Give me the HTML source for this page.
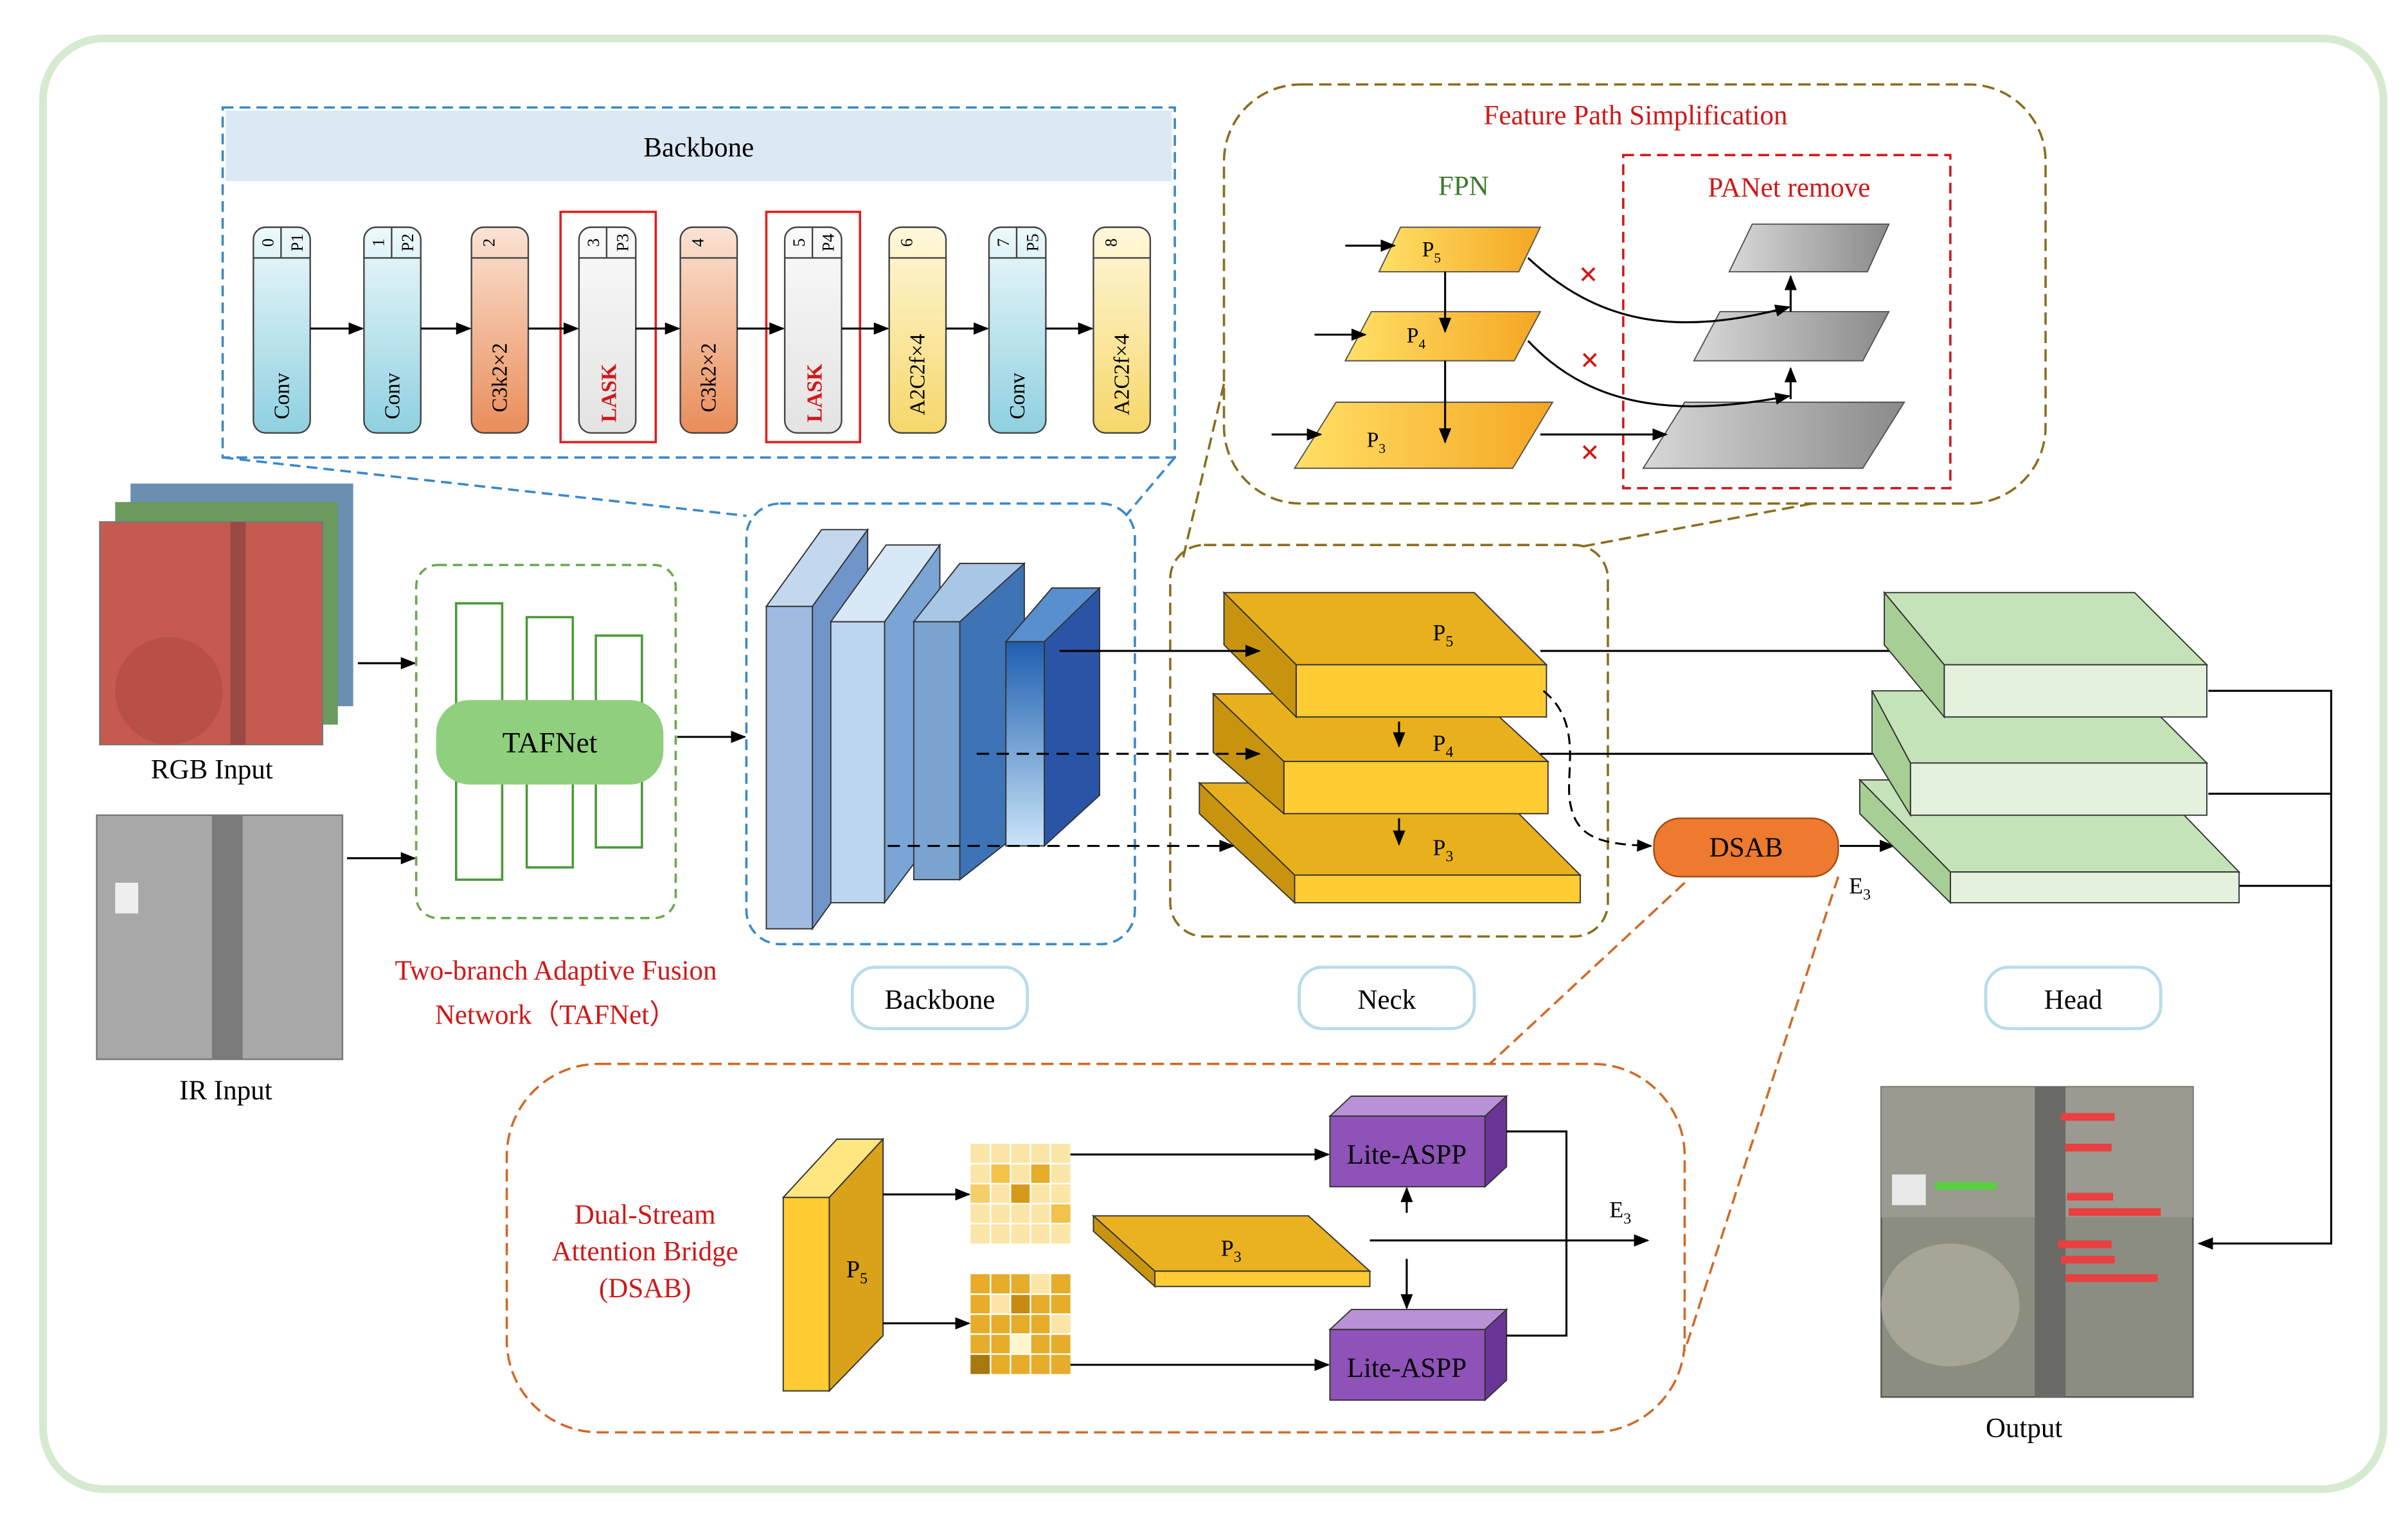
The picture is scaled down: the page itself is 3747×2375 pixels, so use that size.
<!DOCTYPE html>
<html><head><meta charset="utf-8"><style>
html,body{margin:0;padding:0;background:#fff}
svg{display:block}
svg text{font-family:"Liberation Serif",serif}
</style></head><body>
<svg width="3747" height="2375" viewBox="0 0 1568 994" preserveAspectRatio="none" xmlns="http://www.w3.org/2000/svg" font-family="Liberation Serif, serif">
<defs>
<linearGradient id="cy" x1="0" y1="0" x2="0" y2="1"><stop offset="0" stop-color="#eef9fb"/><stop offset="1" stop-color="#8fd0e0"/></linearGradient>
<linearGradient id="or" x1="0" y1="0" x2="0" y2="1"><stop offset="0" stop-color="#fbe3d4"/><stop offset="1" stop-color="#e98d5a"/></linearGradient>
<linearGradient id="ye" x1="0" y1="0" x2="0" y2="1"><stop offset="0" stop-color="#fff8dc"/><stop offset="1" stop-color="#f6d76a"/></linearGradient>
<linearGradient id="gr" x1="0" y1="0" x2="0" y2="1"><stop offset="0" stop-color="#fafafa"/><stop offset="1" stop-color="#e3e3e3"/></linearGradient>
<linearGradient id="pg" x1="0" y1="0" x2="1" y2="0"><stop offset="0" stop-color="#ffe066"/><stop offset="1" stop-color="#f5a623"/></linearGradient>
<linearGradient id="gg" x1="0" y1="0" x2="1" y2="0"><stop offset="0" stop-color="#d8d8d8"/><stop offset="1" stop-color="#8a8a8a"/></linearGradient>
<linearGradient id="bl" x1="0" y1="0" x2="0" y2="1"><stop offset="0" stop-color="#1e5fb0"/><stop offset="1" stop-color="#c9e4f7"/></linearGradient>
<marker id="a" markerWidth="10" markerHeight="8" refX="9" refY="4" orient="auto" markerUnits="userSpaceOnUse"><path d="M0,0 L10,4 L0,8 z" fill="#000"/></marker>
</defs>
<rect x="28" y="25" width="1524" height="945" rx="40" fill="#fff" stroke="#d6ead0" stroke-width="5"/>

<!-- Backbone detail -->
<rect x="145" y="70" width="620" height="228" fill="none" stroke="#3b88c8" stroke-width="1.5" stroke-dasharray="7,4"/>
<rect x="147" y="72" width="616" height="46" fill="#dce9f5"/>
<text x="455" y="102" font-size="18" text-anchor="middle">Backbone</text>
<g stroke="#444" stroke-width="1">
<rect x="165" y="148" width="37" height="134" rx="8" fill="url(#cy)"/>
<rect x="237" y="148" width="37" height="134" rx="8" fill="url(#cy)"/>
<rect x="307" y="148" width="37" height="134" rx="8" fill="url(#or)"/>
<rect x="377" y="148" width="37" height="134" rx="8" fill="url(#gr)"/>
<rect x="443" y="148" width="37" height="134" rx="8" fill="url(#or)"/>
<rect x="511" y="148" width="37" height="134" rx="8" fill="url(#gr)"/>
<rect x="579" y="148" width="37" height="134" rx="8" fill="url(#ye)"/>
<rect x="644" y="148" width="37" height="134" rx="8" fill="url(#cy)"/>
<rect x="712" y="148" width="37" height="134" rx="8" fill="url(#ye)"/>
<path d="M165,168h37M237,168h37M307,168h37M377,168h37M443,168h37M511,168h37M579,168h37M644,168h37M712,168h37M183,148v20M255,148v20M395,148v20M529,148v20M662,148v20"/>
</g>
<rect x="365" y="138" width="62" height="150" fill="none" stroke="#e02020" stroke-width="1.5"/>
<rect x="499" y="138" width="61" height="150" fill="none" stroke="#e02020" stroke-width="1.5"/>
<g font-size="14" text-anchor="middle">
<text transform="translate(188,258) rotate(-90)">Conv</text>
<text transform="translate(260,258) rotate(-90)">Conv</text>
<text transform="translate(330,246) rotate(-90)">C3k2×2</text>
<text transform="translate(401,256) rotate(-90)" fill="#d01818" font-weight="bold">LASK</text>
<text transform="translate(466,246) rotate(-90)">C3k2×2</text>
<text transform="translate(535,256) rotate(-90)" fill="#d01818" font-weight="bold">LASK</text>
<text transform="translate(602,244) rotate(-90)">A2C2f×4</text>
<text transform="translate(667,258) rotate(-90)">Conv</text>
<text transform="translate(735,244) rotate(-90)">A2C2f×4</text>
</g>
<g font-size="11" text-anchor="middle">
<text transform="translate(178,158) rotate(-90)">0</text><text transform="translate(197,158) rotate(-90)">P1</text>
<text transform="translate(250,158) rotate(-90)">1</text><text transform="translate(269,158) rotate(-90)">P2</text>
<text transform="translate(322,158) rotate(-90)">2</text>
<text transform="translate(390,158) rotate(-90)">3</text><text transform="translate(409,158) rotate(-90)">P3</text>
<text transform="translate(458,158) rotate(-90)">4</text>
<text transform="translate(524,158) rotate(-90)">5</text><text transform="translate(543,158) rotate(-90)">P4</text>
<text transform="translate(594,158) rotate(-90)">6</text>
<text transform="translate(657,158) rotate(-90)">7</text><text transform="translate(676,158) rotate(-90)">P5</text>
<text transform="translate(727,158) rotate(-90)">8</text>
</g>
<g stroke="#000" stroke-width="1.3" marker-end="url(#a)">
<path d="M202,214H236"/><path d="M274,214H306"/><path d="M344,214H376"/><path d="M414,214H442"/><path d="M480,214H510"/><path d="M548,214H578"/><path d="M616,214H643"/><path d="M681,214H711"/>
</g>
<path d="M145,298 L486,336 M765,298 L733,336" stroke="#3b88c8" stroke-width="1.5" stroke-dasharray="7,4" fill="none"/>

<!-- Feature path simplification -->
<rect x="797" y="55" width="535" height="273" rx="50" fill="none" stroke="#8a6d1f" stroke-width="1.5" stroke-dasharray="8,4"/>
<text x="1065" y="81" font-size="18" fill="#d01818" text-anchor="middle">Feature Path Simplification</text>
<text x="953" y="127" font-size="18" fill="#3d7a2a" text-anchor="middle">FPN</text>
<rect x="1057" y="101" width="213" height="217" fill="none" stroke="#d01818" stroke-width="1.5" stroke-dasharray="7,4"/>
<text x="1165" y="128" font-size="18" fill="#d01818" text-anchor="middle">PANet remove</text>
<g stroke="#555" stroke-width="0.8">
<polygon points="912,148 1003,148 989,177 898,177" fill="url(#pg)"/>
<polygon points="893,203 1003,203 986,235 876,235" fill="url(#pg)"/>
<polygon points="870,262 1011,262 985,305 843,305" fill="url(#pg)"/>
<polygon points="1141,146 1230,146 1216,177 1126,177" fill="url(#gg)"/>
<polygon points="1120,203 1230,203 1213,235 1103,235" fill="url(#gg)"/>
<polygon points="1097,262 1240,262 1213,305 1070,305" fill="url(#gg)"/>
</g>
<g font-size="14"><text x="926" y="167">P<tspan font-size="9" dy="4">5</tspan></text><text x="916" y="223">P<tspan font-size="9" dy="4">4</tspan></text><text x="890" y="291">P<tspan font-size="9" dy="4">3</tspan></text></g>
<g stroke="#000" stroke-width="1.3" fill="none" marker-end="url(#a)">
<path d="M876,160H908"/><path d="M856,218H889"/><path d="M828,283H860"/><path d="M941,177V216"/><path d="M941,235V288"/><path d="M1003,283H1085"/>
<path d="M995,168 C1040,210 1090,220 1165,200"/>
<path d="M995,222 C1040,270 1100,270 1165,258"/>
<path d="M1166,260V240"/><path d="M1166,203V180"/>
</g>
<g fill="#d01818" font-size="22" font-weight="bold" font-family="Liberation Sans,sans-serif"><text x="1028" y="186">×</text><text x="1029" y="242">×</text><text x="1029" y="302">×</text></g>
<path d="M797,250 L770,365 M1180,328 L1030,356" stroke="#8a6d1f" stroke-width="1.5" stroke-dasharray="8,4"/>

<!-- Inputs -->
<rect x="85" y="315" width="145" height="145" fill="#6a8fb0"/>
<rect x="75" y="327" width="145" height="145" fill="#6c9a5e"/>
<rect x="65" y="340" width="145" height="145" fill="#c65a4e" stroke="#777"/>
<rect x="150" y="340" width="10" height="145" fill="#9a4a42"/>
<ellipse cx="110" cy="450" rx="35" ry="35" fill="#b85046"/>
<text x="138" y="507" font-size="18" text-anchor="middle">RGB Input</text>
<rect x="63" y="531" width="160" height="159" fill="#a8a8a8" stroke="#777"/>
<rect x="138" y="531" width="20" height="159" fill="#7a7a7a"/>
<rect x="75" y="575" width="15" height="20" fill="#eee"/>
<text x="147" y="716" font-size="18" text-anchor="middle">IR Input</text>
<g stroke="#000" stroke-width="1.3" marker-end="url(#a)"><path d="M233,432H270"/><path d="M226,559H270"/><path d="M441,480H485"/></g>

<!-- TAFNet -->
<rect x="271" y="368" width="169" height="230" rx="14" fill="none" stroke="#6aa84f" stroke-width="1.5" stroke-dasharray="6,4"/>
<g fill="none" stroke="#4a9a3a" stroke-width="1.5"><rect x="297" y="393" width="30" height="180"/><rect x="343" y="402" width="30" height="163"/><rect x="388" y="414" width="30" height="138"/></g>
<rect x="284" y="456" width="148" height="55" rx="22" fill="#90cf7e"/>
<text x="358" y="490" font-size="19" text-anchor="middle">TAFNet</text>
<text x="362" y="638" font-size="18" fill="#d01818" text-anchor="middle">Two-branch Adaptive Fusion</text>
<text x="362" y="667" font-size="18" fill="#d01818" text-anchor="middle">Network（TAFNet）</text>

<!-- Backbone 3D -->
<rect x="486" y="328" width="253" height="287" rx="22" fill="none" stroke="#3b88c8" stroke-width="1.5" stroke-dasharray="7,4"/>
<g stroke="#333" stroke-width="0.8">
<polygon points="499,395 535,345 565,345 529,395" fill="#c3d8ef"/><polygon points="529,395 565,345 565,555 529,605" fill="#6f95c9"/><rect x="499" y="395" width="30" height="210" fill="#9fbbe2"/>
<polygon points="541,405 577,355 612,355 576,405" fill="#d9e8f6"/><polygon points="576,405 612,355 612,540 576,588" fill="#7aa5d4"/><rect x="541" y="405" width="35" height="183" fill="#bdd6ef"/>
<polygon points="595,405 625,367 667,367 637,405" fill="#a8c6e6"/><polygon points="625,405 667,367 667,540 625,573" fill="#3e73b5"/><rect x="595" y="405" width="30" height="168" fill="#7aa3d0"/>
<polygon points="655,418 685,383 716,383 686,418" fill="#5a8fcf"/><polygon points="680,418 716,383 716,518 680,551" fill="#2a55a6"/><rect x="655" y="418" width="25" height="133" fill="url(#bl)"/>
</g>

<!-- Neck -->
<rect x="762" y="355" width="285" height="255" rx="22" fill="none" stroke="#8a6d1f" stroke-width="1.5" stroke-dasharray="8,4"/>
<g stroke="#333" stroke-width="0.8">
<polygon points="781,510 969,510 1029,570 843,570" fill="#e8b01c"/><rect x="843" y="570" width="186" height="18" fill="#ffcc33"/><polygon points="781,510 843,570 843,588 781,530" fill="#c89410"/>
<polygon points="790,452 960,452 1008,496 836,496" fill="#e8b01c"/><rect x="836" y="496" width="172" height="34" fill="#ffcc33"/><polygon points="790,452 836,496 836,530 790,490" fill="#c89410"/>
<polygon points="797,386 960,386 1007,433 844,433" fill="#e8b01c"/><rect x="844" y="433" width="163" height="34" fill="#ffcc33"/><polygon points="797,386 844,433 844,467 797,420" fill="#c89410"/>
</g>
<g font-size="15"><text x="933" y="417">P<tspan font-size="10" dy="4">5</tspan></text><text x="933" y="489">P<tspan font-size="10" dy="4">4</tspan></text><text x="933" y="557">P<tspan font-size="10" dy="4">3</tspan></text></g>
<g stroke="#000" stroke-width="1.3" fill="none" marker-end="url(#a)">
<path d="M911,470V486"/><path d="M911,533V550"/>
<path d="M690,424H820"/><path d="M636,491H820" stroke-dasharray="8,5"/><path d="M578,551H803" stroke-dasharray="8,5"/>
<path d="M1003,424H1246"/><path d="M1003,491H1241"/>
<path d="M1198,551H1233"/>
<path d="M1005,450 C1030,470 1020,500 1022,520 C1025,545 1040,550 1075,551" stroke-dasharray="7,4"/>
<path d="M1438,450H1518V810H1432"/>
</g>
<path d="M1438,517H1518M1458,577H1518" stroke="#000" stroke-width="1.3"/>
<rect x="1077" y="533" width="120" height="38" rx="17" fill="#ee7a30" stroke="#a04a10"/>
<text x="1137" y="558" font-size="18" text-anchor="middle">DSAB</text>
<text x="1204" y="582" font-size="15">E<tspan font-size="10" dy="4">3</tspan></text>

<!-- Head -->
<g stroke="#333" stroke-width="0.8">
<polygon points="1211,508 1400,508 1458,568 1270,568" fill="#c5e3b8"/><rect x="1270" y="568" width="188" height="20" fill="#e4f2dd"/><polygon points="1211,508 1270,568 1270,588 1211,530" fill="#a7cf95"/>
<polygon points="1219,450 1390,450 1437,497 1244,497" fill="#c5e3b8"/><rect x="1244" y="497" width="193" height="34" fill="#e4f2dd"/><polygon points="1219,450 1244,497 1244,531 1219,490" fill="#a7cf95"/>
<polygon points="1227,386 1390,386 1437,433 1266,433" fill="#c5e3b8"/><rect x="1266" y="433" width="171" height="34" fill="#e4f2dd"/><polygon points="1227,386 1266,433 1266,467 1227,420" fill="#a7cf95"/>
</g>

<!-- Labels -->
<g fill="#fff" stroke="#b9dcec" stroke-width="2"><rect x="555" y="630" width="114" height="40" rx="15"/><rect x="846" y="630" width="114" height="40" rx="15"/><rect x="1293" y="630" width="114" height="40" rx="15"/></g>
<g font-size="18" text-anchor="middle"><text x="612" y="657">Backbone</text><text x="903" y="657">Neck</text><text x="1350" y="657">Head</text></g>

<!-- DSAB detail -->
<rect x="330" y="693" width="767" height="240" rx="60" fill="none" stroke="#d06a28" stroke-width="1.5" stroke-dasharray="8,4"/>
<path d="M1097,575 L970,693 M1197,571 L1097,880" stroke="#d06a28" stroke-width="1.5" stroke-dasharray="8,4"/>
<text x="420" y="797" font-size="18" fill="#d01818" text-anchor="middle">Dual-Stream</text>
<text x="420" y="821" font-size="18" fill="#d01818" text-anchor="middle">Attention Bridge</text>
<text x="420" y="845" font-size="18" fill="#d01818" text-anchor="middle">(DSAB)</text>
<g stroke="#333" stroke-width="0.8">
<polygon points="510,780 545,742 575,742 540,780" fill="#ffe680"/><polygon points="540,780 575,742 575,870 540,906" fill="#d9a21a"/><rect x="510" y="780" width="30" height="126" fill="#ffcc33"/>
<polygon points="712,792 852,792 892,828 752,828" fill="#eab220"/><rect x="752" y="828" width="140" height="10" fill="#ffcc33"/><polygon points="712,792 752,828 752,838 712,802" fill="#c89410"/>
<polygon points="866,727 880,714 981,714 967,727" fill="#b991d6"/><rect x="866" y="727" width="101" height="46" fill="#8e52b8"/><polygon points="967,727 981,714 981,760 967,773" fill="#6a3596"/>
<polygon points="866,866 880,853 981,853 967,866" fill="#b991d6"/><rect x="866" y="866" width="101" height="46" fill="#8e52b8"/><polygon points="967,866 981,853 981,899 967,912" fill="#6a3596"/>
</g>
<text x="551" y="832" font-size="16">P<tspan font-size="10" dy="4">5</tspan></text>
<text x="795" y="818" font-size="15">P<tspan font-size="10" dy="4">3</tspan></text>
<text x="916" y="758" font-size="18" text-anchor="middle">Lite-ASPP</text>
<text x="916" y="897" font-size="18" text-anchor="middle">Lite-ASPP</text>
<g>
<rect x="632" y="745" width="65" height="65" fill="#fbe6a8"/>
<rect x="645" y="758" width="13" height="13" fill="#f2c24a"/><rect x="671" y="758" width="13" height="13" fill="#e6ac2a"/><rect x="658" y="771" width="13" height="13" fill="#d69a1a"/><rect x="632" y="771" width="13" height="13" fill="#f5cf6a"/><rect x="684" y="784" width="13" height="13" fill="#f2c24a"/>
<rect x="632" y="830" width="65" height="65" fill="#e6ac2a"/>
<rect x="645" y="843" width="13" height="13" fill="#fbe6a8"/><rect x="671" y="830" width="13" height="13" fill="#fbe6a8"/><rect x="658" y="869" width="13" height="13" fill="#fff4cc"/><rect x="684" y="856" width="13" height="13" fill="#fbe6a8"/><rect x="632" y="882" width="13" height="13" fill="#a87810"/><rect x="658" y="843" width="13" height="13" fill="#c88a10"/>
<path d="M632,758H697M632,771H697M632,784H697M632,797H697M645,745V810M658,745V810M671,745V810M684,745V810M632,843H697M632,856H697M632,869H697M632,882H697M645,830V895M658,830V895M671,830V895M684,830V895" stroke="#fff" stroke-width="1"/>
</g>
<g stroke="#000" stroke-width="1.3" fill="none" marker-end="url(#a)">
<path d="M575,778H631"/><path d="M575,862H631"/><path d="M697,752H865"/><path d="M697,889H865"/><path d="M892,808H1073"/>
<path d="M916,790V774"/><path d="M916,820V852"/>
</g>
<path d="M981,737H1020V870H981" stroke="#000" stroke-width="1.3" fill="none"/>
<text x="1048" y="793" font-size="15">E<tspan font-size="10" dy="4">3</tspan></text>

<!-- Output -->
<rect x="1225" y="708" width="203" height="202" fill="#8a8d80" stroke="#555"/>
<rect x="1225" y="708" width="203" height="85" fill="#9a9a90"/>
<ellipse cx="1270" cy="850" rx="45" ry="40" fill="#a6a596"/>
<rect x="1325" y="708" width="20" height="202" fill="#6a6a66"/>
<rect x="1232" y="765" width="22" height="20" fill="#e8e8e8"/>
<g fill="#e84040"><rect x="1342" y="725" width="35" height="5"/><rect x="1345" y="745" width="30" height="5"/><rect x="1346" y="777" width="30" height="5"/><rect x="1347" y="787" width="60" height="5"/><rect x="1340" y="808" width="35" height="5"/><rect x="1342" y="818" width="35" height="5"/><rect x="1345" y="830" width="60" height="5"/></g>
<rect x="1260" y="770" width="40" height="5" fill="#5ad040"/>
<text x="1318" y="936" font-size="18" text-anchor="middle">Output</text>
</svg>
</body></html>
